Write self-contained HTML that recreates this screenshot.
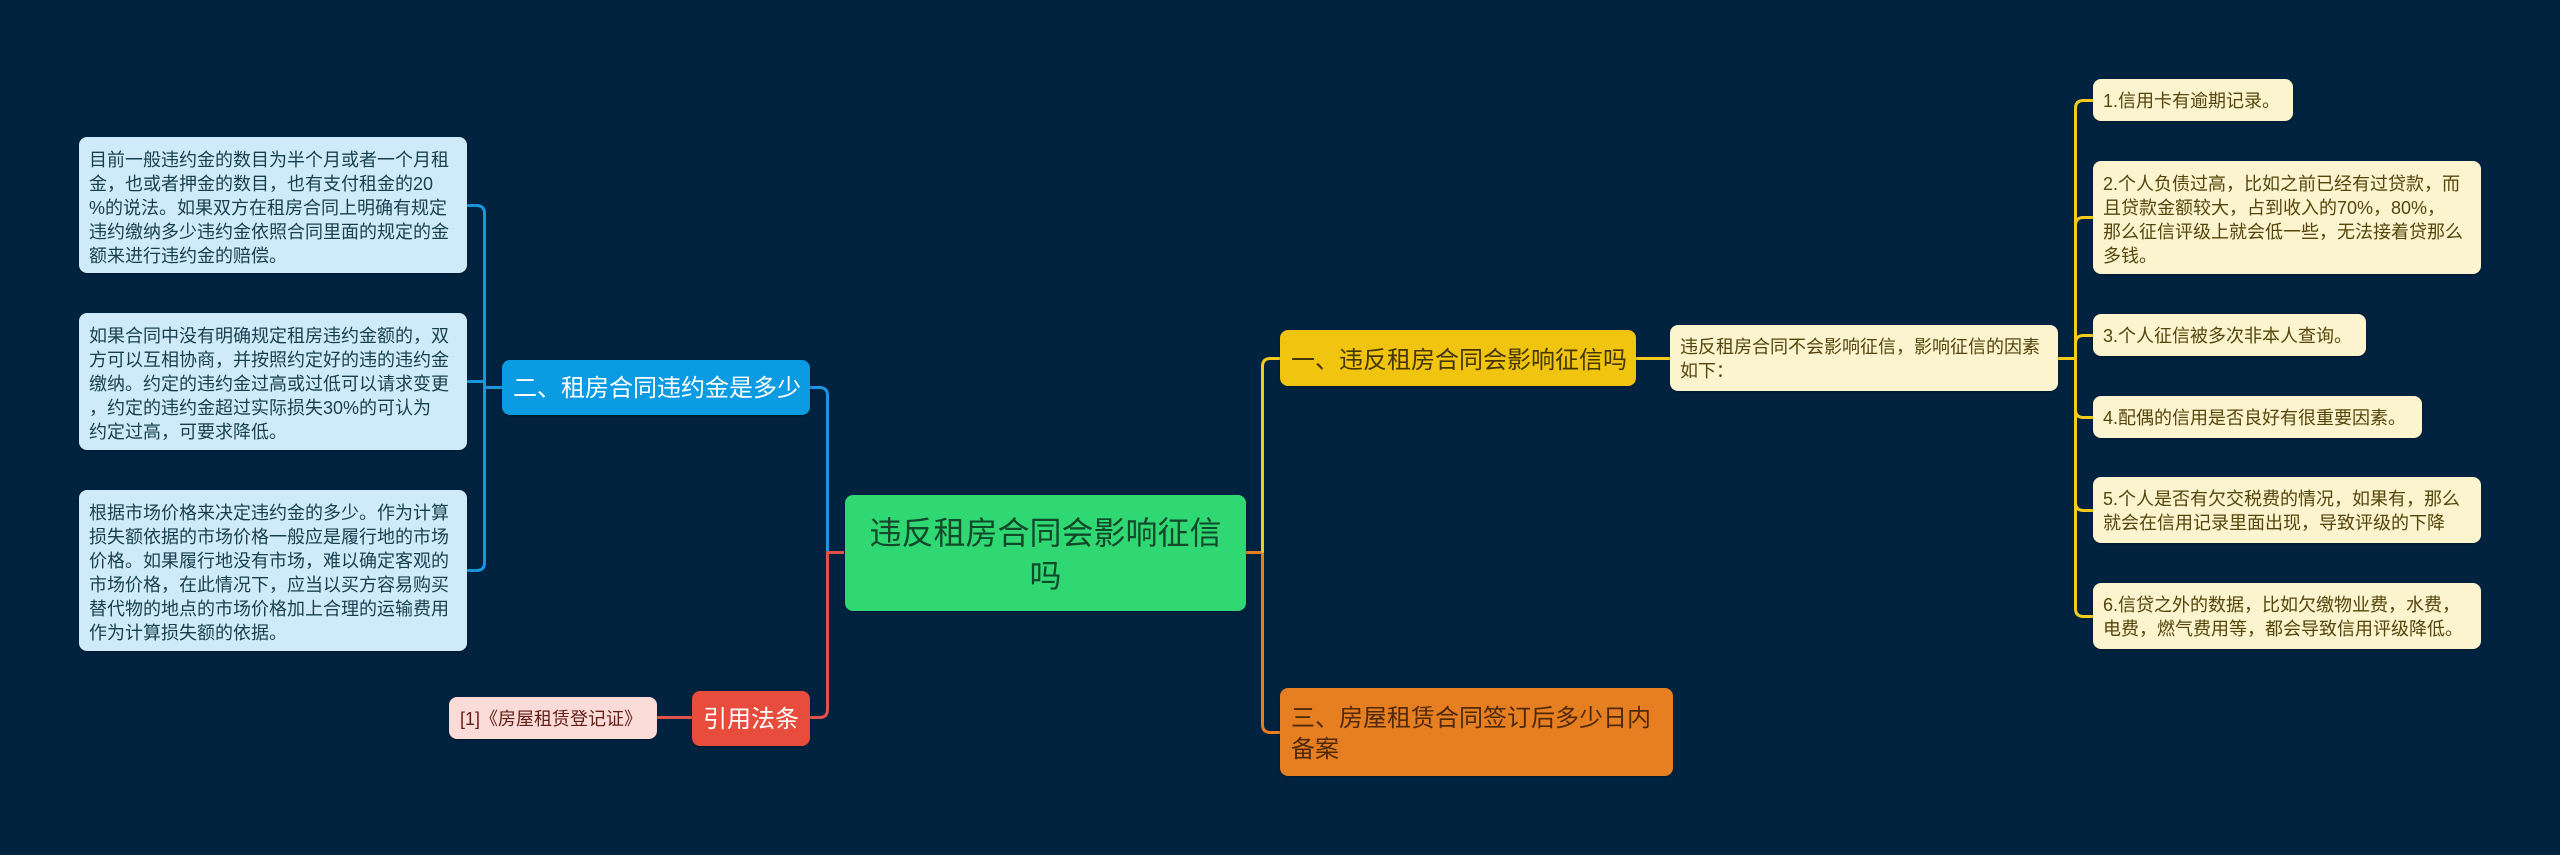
<!DOCTYPE html>
<html lang="zh"><head><meta charset="utf-8"><style>
html,body{margin:0;padding:0;background:#012340;width:2560px;height:855px;overflow:hidden}
body{position:relative;font-family:"Liberation Sans","WenQuanYi Zen Hei","Noto Sans CJK SC",sans-serif}
svg{position:absolute;left:0;top:0}
.n{position:absolute;box-sizing:border-box;border-radius:8px;white-space:nowrap;box-shadow:0 1px 2px rgba(0,0,0,.35)}
.b{background:#cfebfa;color:#173f4f;font-size:18px;line-height:24px;padding:11px 10px 0;left:79px;width:388px}
.y{background:#fcf3cf;color:#54460b;font-size:18px;line-height:24px;padding:10px 10px 0;left:2093px}
</style></head><body>
<svg width="2560" height="855" fill="none" stroke-width="3">
<g stroke="#1b95dd">
<path d="M467 205.5H476.5Q484.5 205.5 484.5 213.5V562.5Q484.5 570.5 476.5 570.5H467"/>
<path d="M467 381.5H484.5M484.5 387.5H502"/>
<path d="M810 387.5H819.5Q827.5 387.5 827.5 395.5V552.5"/>
</g>
<g stroke="#e0524a">
<path d="M844 552.5H827.5V709.5Q827.5 717.5 819.5 717.5H810"/>
<path d="M657 717.5H692"/>
</g>
<g stroke="#e67e22">
<path d="M1246 552.5H1262.5V724.5Q1262.5 732.5 1270.5 732.5H1280"/>
</g>
<g stroke="#f4cb1c">
<path d="M1262.5 552.5V366.5Q1262.5 358.5 1270.5 358.5H1280"/>
<path d="M1636 358.5H1670M2058 358.5H2075.5"/>
<path d="M2093 100.5H2083.5Q2075.5 100.5 2075.5 108.5V608.5Q2075.5 616.5 2083.5 616.5H2093"/>
<path d="M2093 217.5H2083.5Q2075.5 217.5 2075.5 225.5M2093 335.5H2083.5Q2075.5 335.5 2075.5 343.5M2075.5 409.5Q2075.5 417.5 2083.5 417.5H2093M2075.5 502.5Q2075.5 510.5 2083.5 510.5H2093"/>
</g>
</svg>

<div class="n b" style="top:137px;height:136px">目前一般违约金的数目为半个月或者一个月租<br>金，也或者押金的数目，也有支付租金的20<br>%的说法。如果双方在租房合同上明确有规定<br>违约缴纳多少违约金依照合同里面的规定的金<br>额来进行违约金的赔偿。</div>
<div class="n b" style="top:313px;height:137px">如果合同中没有明确规定租房违约金额的，双<br>方可以互相协商，并按照约定好的违的违约金<br>缴纳。约定的违约金过高或过低可以请求变更<br>，约定的违约金超过实际损失30%的可认为<br>约定过高，可要求降低。</div>
<div class="n b" style="top:490px;height:161px">根据市场价格来决定违约金的多少。作为计算<br>损失额依据的市场价格一般应是履行地的市场<br>价格。如果履行地没有市场，难以确定客观的<br>市场价格，在此情况下，应当以买方容易购买<br>替代物的地点的市场价格加上合理的运输费用<br>作为计算损失额的依据。</div>

<div class="n" style="left:502px;top:360px;width:308px;height:55px;background:#0b9be2;color:#fff;font-size:24px;line-height:55px;padding:1px 0 0 11px">二、租房合同违约金是多少</div>
<div class="n" style="left:692px;top:691px;width:118px;height:55px;background:#e74c3c;color:#fff;font-size:24px;line-height:55px;padding:1px 0 0 11px">引用法条</div>
<div class="n" style="left:449px;top:697px;width:208px;height:42px;background:#fadbd8;color:#641e16;font-size:18px;line-height:42px;padding:1px 0 0 11px">[1]《房屋租赁登记证》</div>

<div class="n" style="left:845px;top:495px;width:401px;height:116px;background:#2fd873;color:#11492a;font-size:32px;line-height:43px;padding-top:17px;text-align:center">违反租房合同会影响征信<br>吗</div>

<div class="n" style="left:1280px;top:330px;width:356px;height:56px;background:#f1c40f;color:#453705;font-size:24px;line-height:56px;padding:3px 0 0 11px">一、违反租房合同会影响征信吗</div>
<div class="n" style="left:1280px;top:688px;width:393px;height:88px;background:#e67e22;color:#4f2908;font-size:24px;line-height:31px;padding:15px 11px 0">三、房屋租赁合同签订后多少日内<br>备案</div>
<div class="n y" style="left:1670px;top:325px;width:388px;height:66px">违反租房合同不会影响征信，影响征信的因素<br>如下：</div>

<div class="n y" style="top:79px;width:200px;height:42px">1.信用卡有逾期记录。</div>
<div class="n y" style="top:161px;width:388px;height:113px;padding-top:11px">2.个人负债过高，比如之前已经有过贷款，而<br>且贷款金额较大，占到收入的70%，80%，<br>那么征信评级上就会低一些，无法接着贷那么<br>多钱。</div>
<div class="n y" style="top:314px;width:273px;height:42px">3.个人征信被多次非本人查询。</div>
<div class="n y" style="top:396px;width:329px;height:42px">4.配偶的信用是否良好有很重要因素。</div>
<div class="n y" style="top:477px;width:388px;height:66px">5.个人是否有欠交税费的情况，如果有，那么<br>就会在信用记录里面出现，导致评级的下降</div>
<div class="n y" style="top:583px;width:388px;height:66px">6.信贷之外的数据，比如欠缴物业费，水费，<br>电费，燃气费用等，都会导致信用评级降低。</div>
</body></html>
